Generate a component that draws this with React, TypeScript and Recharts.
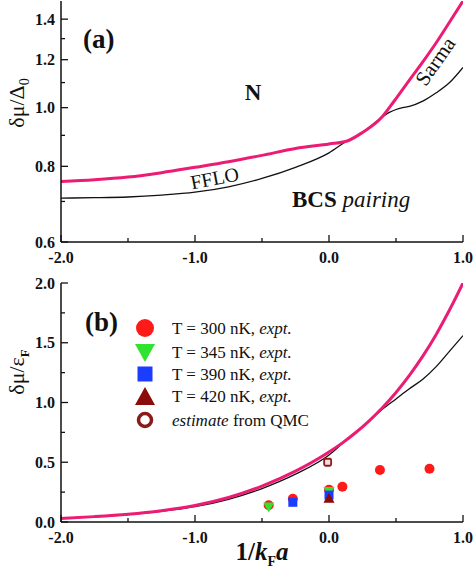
import React from 'react';
import { ComposedChart, Line, Scatter, XAxis, YAxis } from 'recharts';

const FONT = '"Liberation Serif", "Times New Roman", serif';
const INK = '#111';
const PINK = '#ec1c74';

// ---- panel (a) data ----
const xA = [-2, -1.75, -1.5, -1.25, -1, -0.75, -0.5, -0.25, 0, 0.13, 0.25, 0.39, 0.45, 0.5, 0.55, 0.6, 0.7, 0.8, 0.9, 1.0];
const pinkA = [0.755, 0.76, 0.768, 0.781, 0.797, 0.814, 0.834, 0.856, 0.871, 0.88, 0.91, 0.962, 1.0, 1.035, 1.072, 1.11, 1.19, 1.28, 1.385, 1.5];
const blackA = [0.709, 0.71, 0.712, 0.717, 0.725, 0.74, 0.764, 0.797, 0.842, 0.88, 0.91, 0.962, 0.982, 0.993, 1.0, 1.005, 1.025, 1.058, 1.1, 1.165];

// ---- panel (b) data ----
const xB = [-2, -1.75, -1.5, -1.25, -1, -0.75, -0.5, -0.25, 0, 0.1, 0.2, 0.3, 0.4, 0.5, 0.6, 0.7, 0.8, 0.9, 1.0];
const pinkB = [0.03, 0.045, 0.065, 0.095, 0.138, 0.205, 0.3, 0.425, 0.585, 0.662, 0.749, 0.847, 0.958, 1.084, 1.227, 1.388, 1.57, 1.776, 2.0];
const blackB = [0.03, 0.044, 0.062, 0.09, 0.128, 0.19, 0.28, 0.4, 0.56, 0.656, 0.749, 0.847, 0.945, 1.03, 1.115, 1.195, 1.3, 1.43, 1.56];

const t300x = [-0.45, -0.27, 0.0, 0.1, 0.38, 0.75];
const t300y = [0.14, 0.195, 0.27, 0.295, 0.435, 0.445];
const t345x = [-0.45, 0.0];
const t345y = [0.125, 0.255];
const t390x = [-0.27, 0.0];
const t390y = [0.165, 0.225];
const t420x = [0.0];
const t420y = [0.198];
const qmcX = [-0.01];
const qmcY = [0.5];

const xTicks = [-2, -1.5, -1, -0.5, 0, 0.5, 1];
const xLabels = [-2, -1, 0, 1];
const yTicksA = [0.6, 0.7, 0.8, 0.9, 1.0, 1.1, 1.2, 1.3, 1.4];
const yLabelsA = [0.6, 0.8, 1.0, 1.2, 1.4];
const yTicksB = [0, 0.25, 0.5, 0.75, 1, 1.25, 1.5, 1.75, 2];
const yLabelsB = [0, 0.5, 1, 1.5, 2];

const legendLabels = ['T = 300 nK, ', 'T = 345 nK, ', 'T = 390 nK, ', 'T = 420 nK, '];

const zip = (xs: number[], ys: number[]) => xs.map((x, i) => ({ x, y: ys[i] }));

const isIn = (list: number[], v: number) => list.some((t) => Math.abs(t - v) < 1e-6);

const tickText = { fontFamily: FONT, fontWeight: 700, fontSize: 16, fill: INK } as const;

const bottomTick = (labels: number[], showText: boolean, dir: number) => (p: any) => {
  const { x, y, payload } = p;
  const v = payload.value;
  const major = isIn(labels, v);
  const len = major ? 7 : 4;
  return (
    <g>
      <line x1={x} x2={x} y1={y} y2={y - dir * len} stroke={INK} strokeWidth={1.3} />
      {showText && major && (
        <text x={x} y={y + 21} textAnchor="middle" {...tickText}>
          {v.toFixed(1)}
        </text>
      )}
    </g>
  );
};

const sideTick = (labels: number[], showText: boolean, dir: number) => (p: any) => {
  const { x, y, payload } = p;
  const v = payload.value;
  const major = isIn(labels, v);
  const len = major ? 7 : 4;
  return (
    <g>
      <line x1={x} x2={x + dir * len} y1={y} y2={y} stroke={INK} strokeWidth={1.3} />
      {showText && major && (
        <text x={x - 6} y={y} dy="0.35em" textAnchor="end" {...tickText}>
          {v.toFixed(1)}
        </text>
      )}
    </g>
  );
};

const circleShape = (p: any) => <circle cx={p.cx} cy={p.cy} r={5} fill="#ff1a1a" />;
const triDownShape = (p: any) => (
  <polygon points={`${p.cx - 5.5},${p.cy - 4.5} ${p.cx + 5.5},${p.cy - 4.5} ${p.cx},${p.cy + 5.5}`} fill="#2fe32f" />
);
const squareShape = (p: any) => <rect x={p.cx - 4.5} y={p.cy - 4.5} width={9} height={9} fill="#1a3dff" />;
const triUpShape = (p: any) => (
  <polygon points={`${p.cx - 5.5},${p.cy + 4.5} ${p.cx + 5.5},${p.cy + 4.5} ${p.cx},${p.cy - 5.5}`} fill="#8b0a0a" />
);
const qmcShape = (p: any) => (
  <rect x={p.cx - 3.5} y={p.cy - 3.5} width={7} height={7} rx={1.5} fill="#f2dede" stroke="#8b1a1a" strokeWidth={1.8} />
);

const frameProps = { stroke: INK, strokeWidth: 1.5 };

export default function App() {
  const dataPinkA = zip(xA, pinkA);
  const dataBlackA = zip(xA, blackA);
  const dataPinkB = zip(xB, pinkB);
  const dataBlackB = zip(xB, blackB);

  return (
    <div style={{ position: 'absolute', left: 0, top: 0, width: 474, height: 577, background: '#fff' }}>
      <div style={{ position: 'absolute', left: 0, top: 0 }}>
        <ComposedChart width={474} height={270} margin={{ top: 1, right: 11, bottom: 0, left: 0 }}>
          <XAxis
            xAxisId="b"
            type="number"
            dataKey="x"
            domain={[-2, 1]}
            ticks={xTicks}
            interval={0}
            allowDataOverflow
            height={28}
            tickSize={0}
            tickMargin={0}
            tickLine={false}
            axisLine={frameProps}
            tick={bottomTick(xLabels, true, 1)}
          />
          <XAxis
            xAxisId="t"
            orientation="top"
            type="number"
            dataKey="x"
            domain={[-2, 1]}
            ticks={xTicks}
            interval={0}
            allowDataOverflow
            height={0}
            tickSize={0}
            tickMargin={0}
            tickLine={false}
            axisLine={{ stroke: '#333', strokeWidth: 2.5 }}
            tick={bottomTick(xLabels, false, -1)}
          />
          <YAxis
            yAxisId="l"
            type="number"
            dataKey="y"
            scale="log"
            domain={[0.6, 1.5]}
            ticks={yTicksA}
            interval={0}
            allowDataOverflow
            width={61}
            tickSize={0}
            tickMargin={0}
            tickLine={false}
            axisLine={frameProps}
            tick={sideTick(yLabelsA, true, 1)}
          />
          <YAxis
            yAxisId="r"
            orientation="right"
            type="number"
            dataKey="y"
            scale="log"
            domain={[0.6, 1.5]}
            ticks={yTicksA}
            interval={0}
            allowDataOverflow
            width={0}
            tickSize={0}
            tickMargin={0}
            tickLine={false}
            axisLine={frameProps}
            tick={sideTick(yLabelsA, false, -1)}
          />
          <Line xAxisId="b" yAxisId="l" data={dataBlackA} dataKey="y" type="monotone" stroke={INK} strokeWidth={1.3} dot={false} activeDot={false} isAnimationActive={false} />
          <Line xAxisId="b" yAxisId="l" data={dataPinkA} dataKey="y" type="monotone" stroke={PINK} strokeWidth={3} dot={false} activeDot={false} isAnimationActive={false} />
        </ComposedChart>
      </div>

      <div style={{ position: 'absolute', left: 0, top: 270 }}>
        <ComposedChart width={474} height={307} margin={{ top: 13, right: 11, bottom: 0, left: 0 }}>
          <XAxis
            xAxisId="b"
            type="number"
            dataKey="x"
            domain={[-2, 1]}
            ticks={xTicks}
            interval={0}
            allowDataOverflow
            height={55}
            tickSize={0}
            tickMargin={0}
            tickLine={false}
            axisLine={frameProps}
            tick={bottomTick(xLabels, true, 1)}
          />
          <XAxis
            xAxisId="t"
            orientation="top"
            type="number"
            dataKey="x"
            domain={[-2, 1]}
            ticks={xTicks}
            interval={0}
            allowDataOverflow
            height={0}
            tickSize={0}
            tickMargin={0}
            tickLine={false}
            axisLine={frameProps}
            tick={bottomTick(xLabels, false, -1)}
          />
          <YAxis
            yAxisId="l"
            type="number"
            dataKey="y"
            domain={[0, 2]}
            ticks={yTicksB}
            interval={0}
            allowDataOverflow
            width={61}
            tickSize={0}
            tickMargin={0}
            tickLine={false}
            axisLine={frameProps}
            tick={sideTick(yLabelsB, true, 1)}
          />
          <YAxis
            yAxisId="r"
            orientation="right"
            type="number"
            dataKey="y"
            domain={[0, 2]}
            ticks={yTicksB}
            interval={0}
            allowDataOverflow
            width={0}
            tickSize={0}
            tickMargin={0}
            tickLine={false}
            axisLine={frameProps}
            tick={sideTick(yLabelsB, false, -1)}
          />
          <Line xAxisId="b" yAxisId="l" data={dataBlackB} dataKey="y" type="monotone" stroke={INK} strokeWidth={1.3} dot={false} activeDot={false} isAnimationActive={false} />
          <Line xAxisId="b" yAxisId="l" data={dataPinkB} dataKey="y" type="monotone" stroke={PINK} strokeWidth={3} dot={false} activeDot={false} isAnimationActive={false} />
          <Scatter xAxisId="b" yAxisId="l" data={zip(t300x, t300y)} dataKey="y" shape={circleShape} isAnimationActive={false} />
          <Scatter xAxisId="b" yAxisId="l" data={zip(t345x, t345y)} dataKey="y" shape={triDownShape} isAnimationActive={false} />
          <Scatter xAxisId="b" yAxisId="l" data={zip(t390x, t390y)} dataKey="y" shape={squareShape} isAnimationActive={false} />
          <Scatter xAxisId="b" yAxisId="l" data={zip(t420x, t420y)} dataKey="y" shape={triUpShape} isAnimationActive={false} />
          <Scatter xAxisId="b" yAxisId="l" data={zip(qmcX, qmcY)} dataKey="y" shape={qmcShape} isAnimationActive={false} />
        </ComposedChart>
      </div>

      <svg width={474} height={577} style={{ position: 'absolute', left: 0, top: 0, pointerEvents: 'none' }} fontFamily={FONT}>
        {/* panel (a) annotations */}
        <text x={83} y={48} fontSize={27} fontWeight={700} fill={INK}>(a)</text>
        <text x={253} y={100} fontSize={23} fontWeight={700} fill={INK} textAnchor="middle">N</text>
        <text x={215} y={185} fontSize={20} fill={INK} textAnchor="middle" transform="rotate(-11 215 180)">FFLO</text>
        <text x={292} y={207} fontSize={23} fill={INK}>
          <tspan fontWeight={700}>BCS</tspan>
          <tspan fontStyle="italic"> pairing</tspan>
        </text>
        <text x={435} y={61} dy="0.35em" fontSize={21} fill={INK} textAnchor="middle" transform="rotate(-55 435 61)">Sarma</text>
        <text transform="translate(24 103) rotate(-90)" textAnchor="middle" fontSize={22} fill={INK}>
          δμ/Δ<tspan dy={5} fontSize={14}>0</tspan>
        </text>

        {/* panel (b) annotations */}
        <text x={85} y={331} fontSize={27} fontWeight={700} fill={INK}>(b)</text>
        <text transform="translate(24 372) rotate(-90)" textAnchor="middle" fontSize={22} fill={INK}>
          δμ/ε<tspan dy={5} fontSize={13} fontWeight={700}>F</tspan>
        </text>
        <text x={262} y={560} textAnchor="middle" fontSize={25} fontWeight={700} fill={INK}>
          1/<tspan fontStyle="italic">k</tspan>
          <tspan dy={6} fontSize={14}>F</tspan>
          <tspan dy={-6} fontStyle="italic">a</tspan>
        </text>

        {/* legend */}
        <circle cx={145} cy={328} r={9} fill="#ff1a1a" />
        <polygon points="135,344 155,344 145,362" fill="#2fe32f" />
        <rect x={137.5} y={366.5} width={15} height={15} fill="#1a3dff" />
        <polygon points="135,405 155,405 145,387" fill="#8b0a0a" />
        <circle cx={145} cy={420} r={6.5} fill="none" stroke="#8b1a1a" strokeWidth={3.5} />
        {legendLabels.map((lab, i) => (
          <text key={lab} x={172} y={[334, 358, 380, 402][i]} fontSize={17} fill={INK}>
            {lab}
            <tspan fontStyle="italic">expt.</tspan>
          </text>
        ))}
        <text x={172} y={426} fontSize={17} fill={INK}>
          <tspan fontStyle="italic">estimate</tspan> from QMC
        </text>
      </svg>
    </div>
  );
}
